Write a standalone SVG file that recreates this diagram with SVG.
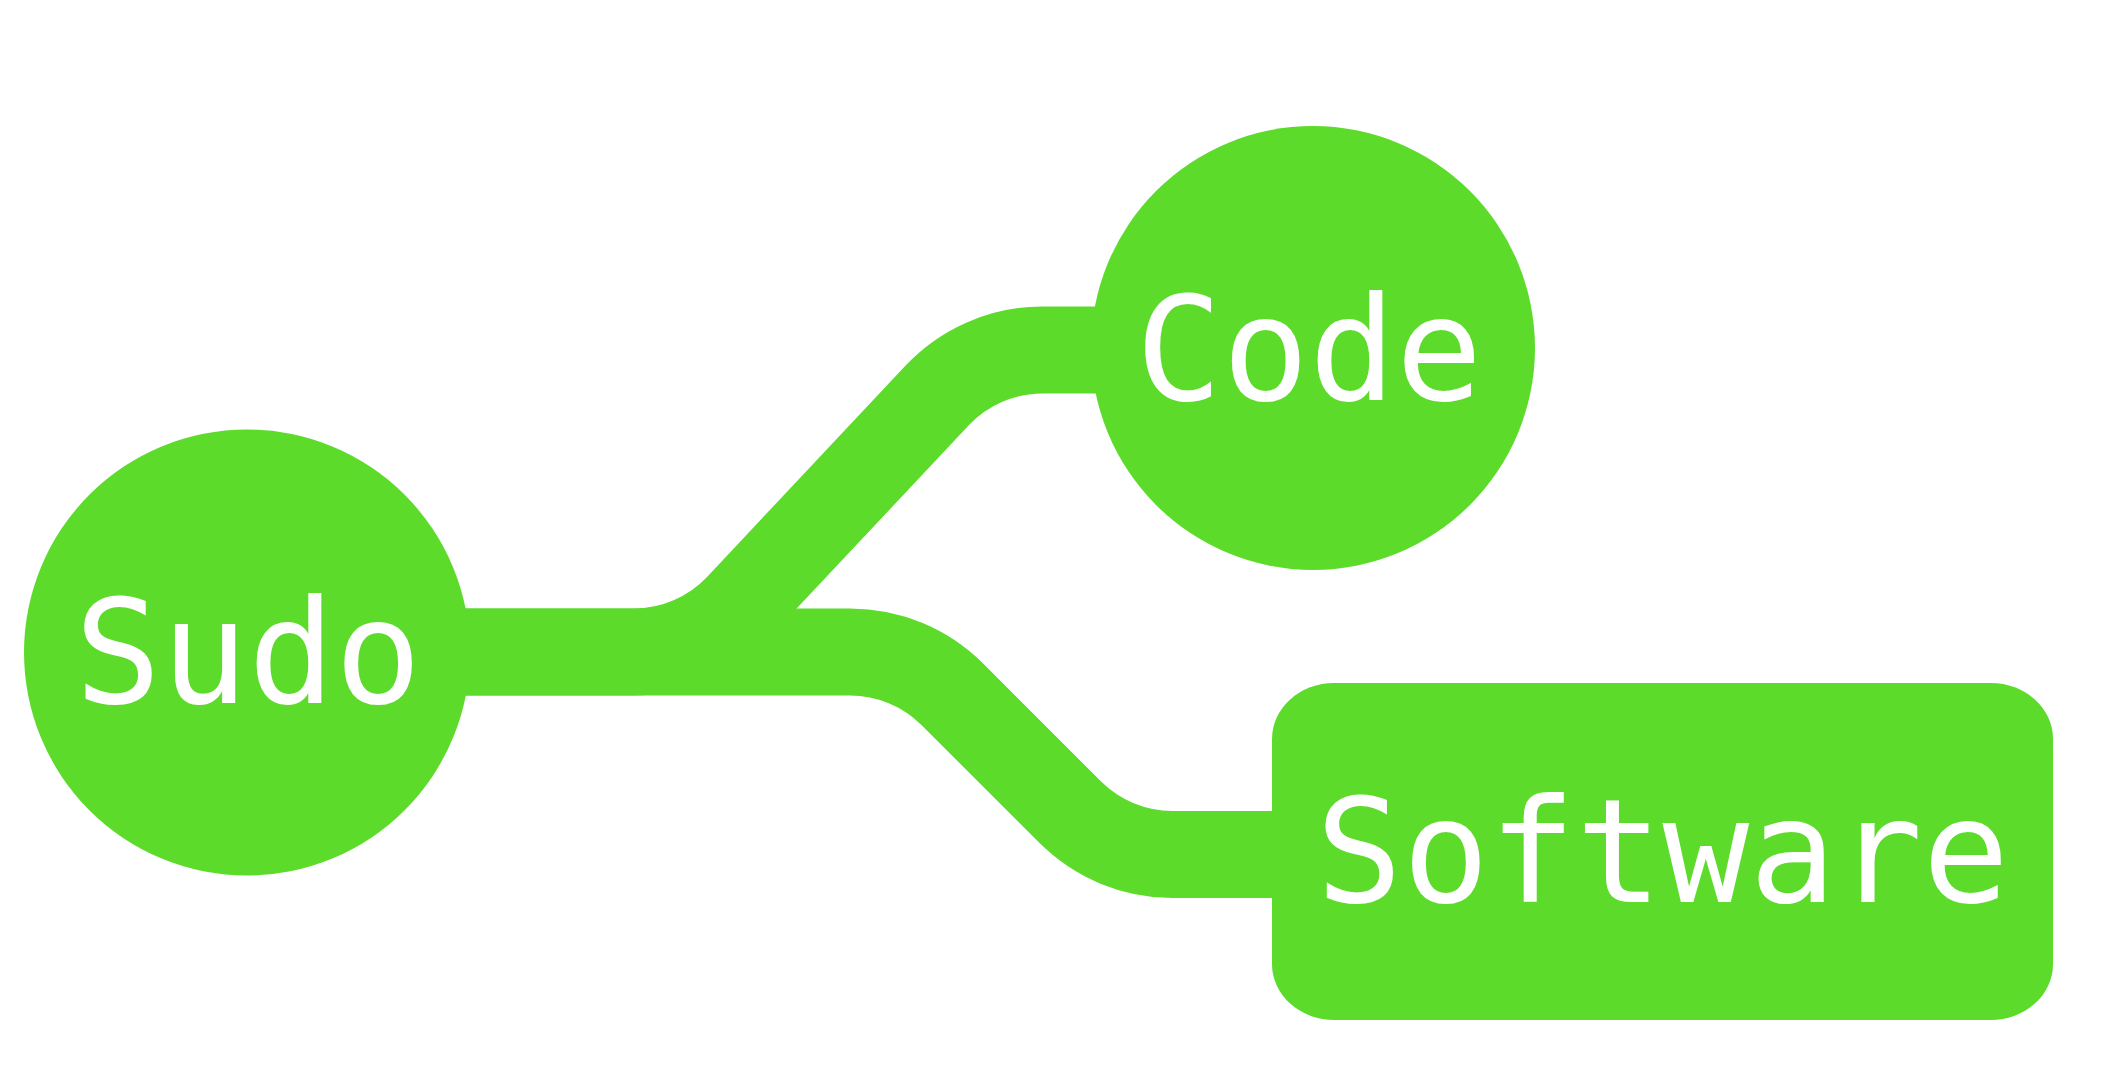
<svg xmlns="http://www.w3.org/2000/svg" width="2114" height="1075" viewBox="0 0 2114 1075">
<style>
.node{fill:#5cdb2b}
.link{fill:none;stroke:#5cdb2b;stroke-width:87;stroke-linejoin:round}
.label{font-family:"DejaVu Sans Mono","Liberation Mono",monospace;font-size:144px;fill:#ffffff;text-anchor:middle}
</style>
<rect width="2114" height="1075" fill="#ffffff"/>
<g id="connectors">
<path id="link-sudo-code" class="link" d="M 440 652 L 633.4 652 A 145 145 0 0 0 738.9 606.5 L 937.1 395.5 A 145 145 0 0 1 1042.6 350 L 1120 350"/>
<path id="link-sudo-software" class="link" d="M 440 652 L 850 652 A 145 145 0 0 1 952.4 694.4 L 1070.1 812.1 A 145 145 0 0 0 1172.5 854.5 L 1290 854.5"/>
</g>
<g id="node-sudo">
<circle class="node" cx="247" cy="652.5" r="223"/>
<text class="label" x="248" y="703">Sudo</text>
</g>
<g id="node-code">
<circle class="node" cx="1313" cy="348" r="222"/>
<text class="label" x="1309" y="400">Code</text>
</g>
<g id="node-software">
<rect class="node" x="1272" y="683" width="781" height="337" rx="62" ry="56"/>
<text class="label" x="1662.5" y="902">Software</text>
</g>
</svg>
